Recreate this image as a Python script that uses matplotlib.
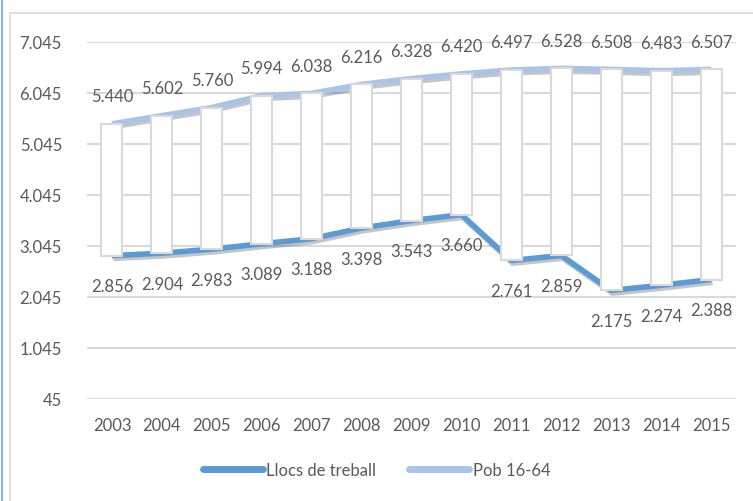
import numpy as np
import matplotlib
matplotlib.use('Agg')
import matplotlib.pyplot as plt
import matplotlib.patheffects as pe
from matplotlib.lines import Line2D

# dades
anys = ['2003', '2004', '2005', '2006', '2007', '2008', '2009',
        '2010', '2011', '2012', '2013', '2014', '2015']
llocs = [2856, 2904, 2983, 3089, 3188, 3398, 3543, 3660, 2761, 2859, 2175, 2274, 2388]
pob = [5440, 5602, 5760, 5994, 6038, 6216, 6328, 6420, 6497, 6528, 6508, 6483, 6507]
yticks = [45, 1045, 2045, 3045, 4045, 5045, 6045, 7045]

plt.rcParams['font.family'] = ['Lato', 'DejaVu Sans']
gris = '#595959'
blau = '#5b9bd5'
blau_clar = '#a9c4e8'
mida = 12

fig = plt.figure(figsize=(7.53, 5.02), dpi=100)
W, H = 753, 502
ax = fig.add_axes([87 / W, 102 / H, (736 - 87) / W, (400 - 43) / H])

x = np.arange(len(anys))
ombra = [pe.SimpleLineShadow(offset=(1, -2), shadow_color='#404040', alpha=0.3),
         pe.Normal()]
ax.plot(x, llocs, color=blau, lw=4, zorder=2, solid_capstyle='butt', path_effects=ombra)
ax.plot(x, pob, color=blau_clar, lw=4, zorder=2, solid_capstyle='butt', path_effects=ombra)

alt = np.array(pob) - np.array(llocs)
ax.bar(x, alt, bottom=llocs, width=0.42, color='white', edgecolor='#d9d9d9',
       linewidth=1.5, zorder=3)

for xi, v in zip(x, pob):
    ax.annotate(f'{v / 1000:.3f}', (xi, v), xytext=(0, 20), textcoords='offset points',
                ha='center', va='center', fontsize=mida, color=gris, zorder=4)
for xi, v in zip(x, llocs):
    ax.annotate(f'{v / 1000:.3f}', (xi, v), xytext=(0, -22), textcoords='offset points',
                ha='center', va='center', fontsize=mida, color=gris, zorder=4)

ax.set_xlim(-0.5, len(anys) - 0.5)
ax.set_ylim(45, 7045)
ax.set_yticks(yticks)
ax.set_yticklabels([f'{t:,}'.replace(',', '.') for t in yticks])
ax.set_xticks(x)
ax.set_xticklabels(anys)
ax.tick_params(length=0, labelsize=mida, labelcolor=gris)
ax.tick_params(axis='x', pad=13)
ax.tick_params(axis='y', pad=18)
ax.grid(axis='y', color='#d9d9d9', lw=1.5, zorder=0)
ax.set_axisbelow(True)
for s in ax.spines.values():
    s.set_visible(False)

handles = [Line2D([], [], color=blau, lw=5, solid_capstyle='round'),
           Line2D([], [], color=blau_clar, lw=5, solid_capstyle='round')]
fig.legend(handles, ['Llocs de treball', 'Pob 16-64'], loc='center',
           bbox_to_anchor=(0.5, 1 - 471 / H), ncol=2, frameon=False,
           handlelength=3.6, handletextpad=0.2, columnspacing=2.0,
           fontsize=mida, labelcolor=gris)

# marc del gràfic
fig.add_artist(Line2D([2 / W, 2 / W], [0, 1], color='#8cb0e0', lw=1.5))
fig.add_artist(Line2D([10 / W, 10 / W], [0, 1 - 14 / H], color='#d9d9d9', lw=1.2))
fig.add_artist(Line2D([10 / W, 1], [1 - 14 / H, 1 - 14 / H], color='#d9d9d9', lw=1.2))

fig.savefig('out.png', dpi=100)
